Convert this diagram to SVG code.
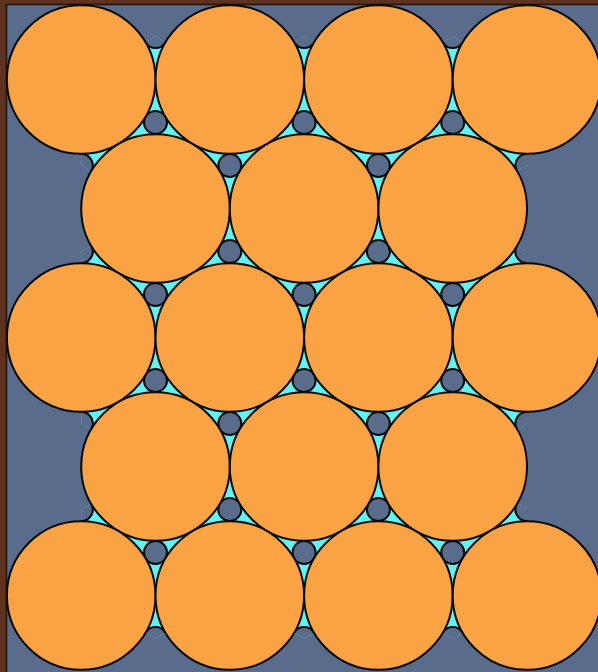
<svg xmlns="http://www.w3.org/2000/svg" width="598" height="672" viewBox="0 0 598 672">
  <defs>
    <style>
      .big { fill: #f9a345; stroke: #0a0a0a; stroke-width: 2; }
      .small { fill: #5a6c8b; stroke: #0a0a0a; stroke-width: 2; }
      .gap { fill: #62f3f0; }
      .cap { fill: #5a6c8b; stroke: none; }
      .arc { fill: none; stroke: #0a0a0a; stroke-width: 2; }
    </style>
    <path id="edgeCap" class="cap" d="M0,0 L-10.4,6 A11.5,11.5 0 0 0 10.4,6 Z"/>
    <path id="edgeArc" class="arc" d="M-9.96,5.75 A11.5,11.5 0 0 0 9.96,5.75"/>
  </defs>

  <g id="frame">
    <rect x="0" y="0" width="598" height="672" fill="#5e321e"/>
    <rect x="6.5" y="4.5" width="600" height="700" fill="#5a6c8b" stroke="#24150c" stroke-width="1.6"/>
  </g>

  <g id="gaps">
    <polygon class="gap" points="81.2,79.5 155.5,36.5 229.8,79.5 304.1,36.5 378.4,79.5 452.7,36.5 527,79.5 527,165.5 452.7,208.5 527,251.5 527,337.5 527,423.5 452.7,466.5 527,509.5 527,595.5 452.7,638.5 378.4,595.5 304.1,638.5 229.8,595.5 155.5,638.5 81.2,595.5 81.2,509.5 155.5,466.5 81.2,423.5 81.2,337.5 81.2,251.5 155.5,208.5 81.2,165.5"/>
  </g>

  <g id="edge-gaps">
    <g transform="translate(155.5,36.5)"><use href="#edgeCap"/><use href="#edgeArc"/></g>
    <g transform="translate(304.1,36.5)"><use href="#edgeCap"/><use href="#edgeArc"/></g>
    <g transform="translate(452.7,36.5)"><use href="#edgeCap"/><use href="#edgeArc"/></g>
    <g transform="translate(527,165.5) rotate(120)"><use href="#edgeCap"/><use href="#edgeArc"/></g>
    <g transform="translate(527,251.5) rotate(60)"><use href="#edgeCap"/><use href="#edgeArc"/></g>
    <g transform="translate(527,423.5) rotate(120)"><use href="#edgeCap"/><use href="#edgeArc"/></g>
    <g transform="translate(527,509.5) rotate(60)"><use href="#edgeCap"/><use href="#edgeArc"/></g>
    <g transform="translate(452.7,638.5) rotate(180)"><use href="#edgeCap"/><use href="#edgeArc"/></g>
    <g transform="translate(304.1,638.5) rotate(180)"><use href="#edgeCap"/><use href="#edgeArc"/></g>
    <g transform="translate(155.5,638.5) rotate(180)"><use href="#edgeCap"/><use href="#edgeArc"/></g>
    <g transform="translate(81.2,509.5) rotate(-60)"><use href="#edgeCap"/><use href="#edgeArc"/></g>
    <g transform="translate(81.2,423.5) rotate(-120)"><use href="#edgeCap"/><use href="#edgeArc"/></g>
    <g transform="translate(81.2,251.5) rotate(-60)"><use href="#edgeCap"/><use href="#edgeArc"/></g>
    <g transform="translate(81.2,165.5) rotate(-120)"><use href="#edgeCap"/><use href="#edgeArc"/></g>
  </g>

  <g id="small-circles">
    <circle class="small" cx="155.5" cy="122.5" r="11.5"/>
    <circle class="small" cx="304.1" cy="122.5" r="11.5"/>
    <circle class="small" cx="452.7" cy="122.5" r="11.5"/>
    <circle class="small" cx="229.8" cy="165.5" r="11.5"/>
    <circle class="small" cx="378.4" cy="165.5" r="11.5"/>
    <circle class="small" cx="229.8" cy="251.5" r="11.5"/>
    <circle class="small" cx="378.4" cy="251.5" r="11.5"/>
    <circle class="small" cx="155.5" cy="294.5" r="11.5"/>
    <circle class="small" cx="304.1" cy="294.5" r="11.5"/>
    <circle class="small" cx="452.7" cy="294.5" r="11.5"/>
    <circle class="small" cx="155.5" cy="380.5" r="11.5"/>
    <circle class="small" cx="304.1" cy="380.5" r="11.5"/>
    <circle class="small" cx="452.7" cy="380.5" r="11.5"/>
    <circle class="small" cx="229.8" cy="423.5" r="11.5"/>
    <circle class="small" cx="378.4" cy="423.5" r="11.5"/>
    <circle class="small" cx="229.8" cy="509.5" r="11.5"/>
    <circle class="small" cx="378.4" cy="509.5" r="11.5"/>
    <circle class="small" cx="155.5" cy="552.5" r="11.5"/>
    <circle class="small" cx="304.1" cy="552.5" r="11.5"/>
    <circle class="small" cx="452.7" cy="552.5" r="11.5"/>
  </g>

  <g id="big-circles">
    <g id="row1">
      <circle class="big" cx="81.2" cy="79.5" r="74.3"/>
      <circle class="big" cx="229.8" cy="79.5" r="74.3"/>
      <circle class="big" cx="378.4" cy="79.5" r="74.3"/>
      <circle class="big" cx="527" cy="79.5" r="74.3"/>
    </g>
    <g id="row2">
      <circle class="big" cx="155.5" cy="208.5" r="74.3"/>
      <circle class="big" cx="304.1" cy="208.5" r="74.3"/>
      <circle class="big" cx="452.7" cy="208.5" r="74.3"/>
    </g>
    <g id="row3">
      <circle class="big" cx="81.2" cy="337.5" r="74.3"/>
      <circle class="big" cx="229.8" cy="337.5" r="74.3"/>
      <circle class="big" cx="378.4" cy="337.5" r="74.3"/>
      <circle class="big" cx="527" cy="337.5" r="74.3"/>
    </g>
    <g id="row4">
      <circle class="big" cx="155.5" cy="466.5" r="74.3"/>
      <circle class="big" cx="304.1" cy="466.5" r="74.3"/>
      <circle class="big" cx="452.7" cy="466.5" r="74.3"/>
    </g>
    <g id="row5">
      <circle class="big" cx="81.2" cy="595.5" r="74.3"/>
      <circle class="big" cx="229.8" cy="595.5" r="74.3"/>
      <circle class="big" cx="378.4" cy="595.5" r="74.3"/>
      <circle class="big" cx="527" cy="595.5" r="74.3"/>
    </g>
  </g>
</svg>
